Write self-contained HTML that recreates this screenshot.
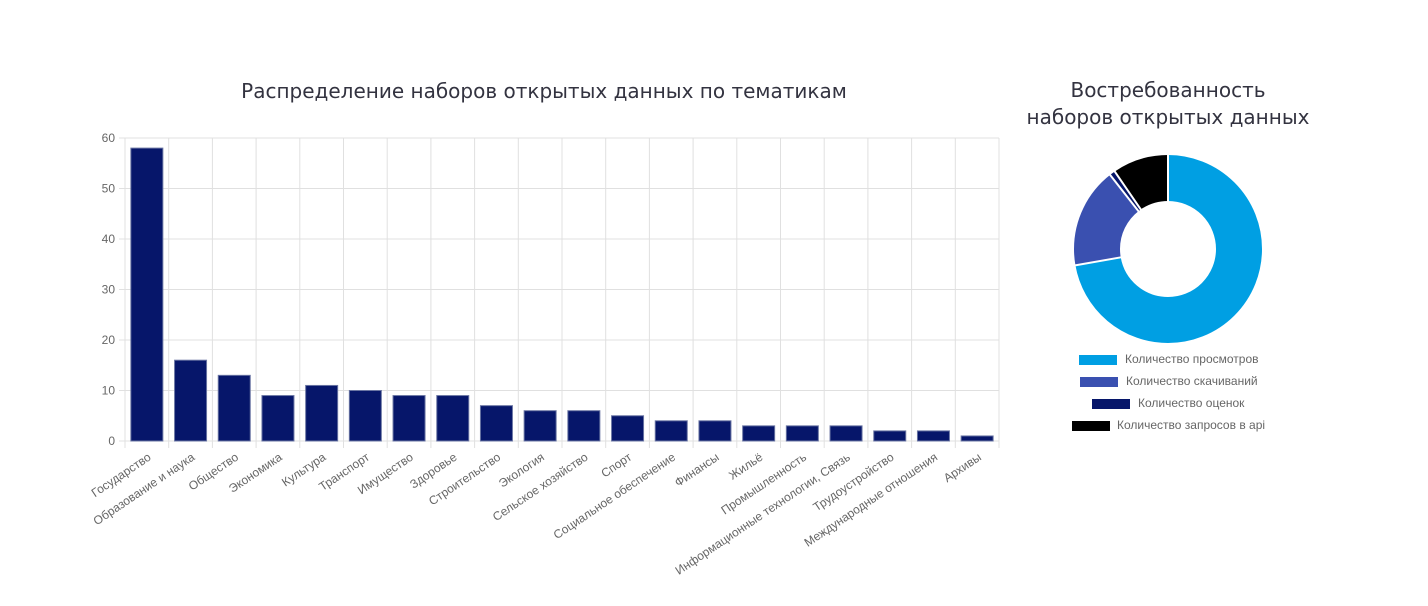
<!DOCTYPE html>
<html><head><meta charset="utf-8"><style>
body{margin:0;background:#fff;}
svg{display:block;font-family:"Liberation Sans",sans-serif;}
</style></head><body>
<svg width="1428" height="606" viewBox="0 0 1428 606" xmlns="http://www.w3.org/2000/svg">
<g font-family="DejaVu Sans, sans-serif" font-size="20" fill="#333340">
<text x="544" y="98" text-anchor="middle">Распределение наборов открытых данных по тематикам</text>
<text x="1168" y="97" text-anchor="middle">Востребованность</text>
<text x="1168" y="124" text-anchor="middle">наборов открытых данных</text>
</g>
<g id="grid" stroke="#e0e0e0" stroke-width="1"></g>
<g id="bars"></g>
<g id="labels" font-size="12" fill="#666"></g>
<g fill="none" stroke-width="46">
<circle cx="1168" cy="249" r="71" stroke="#009fe3" stroke-dasharray="322.2 446.1" transform="rotate(-90 1168 249)"/>
<circle cx="1168" cy="249" r="71" stroke="#3a50b0" stroke-dasharray="0 322.2 76.8 446.1" transform="rotate(-90 1168 249)"/>
<circle cx="1168" cy="249" r="71" stroke="#06166a" stroke-dasharray="0 399 4.4 446.1" transform="rotate(-90 1168 249)"/>
<circle cx="1168" cy="249" r="71" stroke="#000" stroke-dasharray="0 403.4 42.8 446.1" transform="rotate(-90 1168 249)"/>
</g>
<g stroke="#fff" stroke-width="2">
<line x1="1168" y1="203" x2="1168" y2="153"/>
<line x1="1121.7" y1="257.2" x2="1074.4" y2="265.5"/>
<line x1="1139.1" y1="212" x2="1109.5" y2="174.1"/>
<line x1="1141.4" y1="210.3" x2="1114.2" y2="170.7"/>
</g>
<g font-size="12" fill="#666">
<rect x="1079" y="355" width="38" height="10" fill="#009fe3"/><text x="1125" y="363">Количество просмотров</text>
<rect x="1080" y="377" width="38" height="10" fill="#3a50b0"/><text x="1126" y="385">Количество скачиваний</text>
<rect x="1092" y="399" width="38" height="10" fill="#06166a"/><text x="1138" y="407">Количество оценок</text>
<rect x="1072" y="421" width="38" height="10" fill="#000"/><text x="1117" y="429">Количество запросов в api</text>
</g>
</svg>
<script>
const ns="http://www.w3.org/2000/svg";
const cats=["Государство","Образование и наука","Общество","Экономика","Культура","Транспорт","Имущество","Здоровье","Строительство","Экология","Сельское хозяйство","Спорт","Социальное обеспечение","Финансы","Жильё","Промышленность","Информационные технологии, Связь","Трудоустройство","Международные отношения","Архивы"];
const vals=[58,16,13,9,11,10,9,9,7,6,6,5,4,4,3,3,3,2,2,1];
const L=125,R=999,T=138,B=441,step=(R-L)/20,ys=(B-T)/60;
const g=document.getElementById("grid"),b=document.getElementById("bars"),lb=document.getElementById("labels");
function el(p,t,a){const e=document.createElementNS(ns,t);for(const k in a)e.setAttribute(k,a[k]);p.appendChild(e);return e;}
for(let v=0;v<=60;v+=10){const y=B-v*ys;el(g,"line",{x1:L-6,x2:R,y1:y,y2:y});const t=el(lb,"text",{x:L-10,y:y+4,"text-anchor":"end"});t.textContent=v;}
for(let i=0;i<=20;i++){const x=L+i*step;el(g,"line",{x1:x,x2:x,y1:T,y2:B+7});}
vals.forEach((v,i)=>{const c=L+(i+0.5)*step;el(b,"rect",{x:c-16,y:B-v*ys,width:32,height:v*ys,fill:"#06166a",stroke:"#6a75a3","stroke-width":1});
const t=el(lb,"text",{x:c+5,y:B+18,"text-anchor":"end",transform:`rotate(-34 ${c+5} ${B+18})`});t.textContent=cats[i];});
</script>
</body></html>
